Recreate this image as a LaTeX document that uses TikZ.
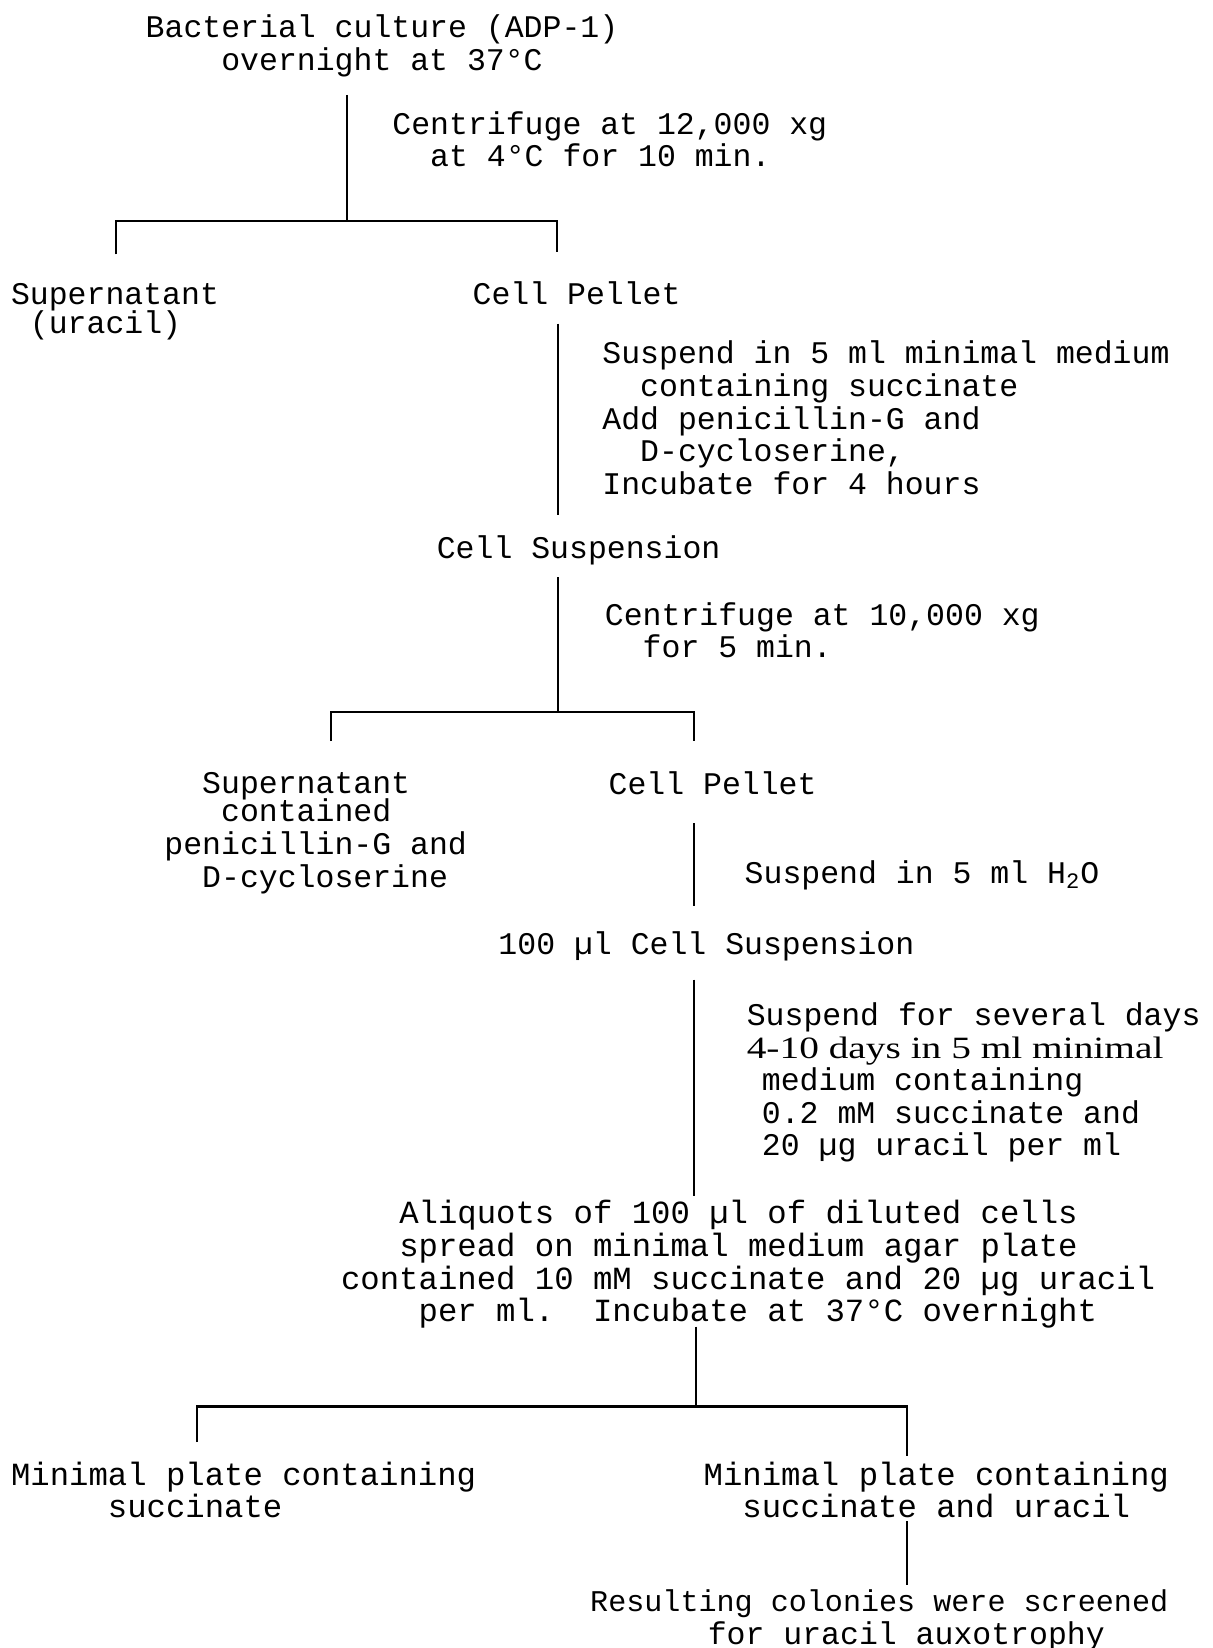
\documentclass[tikz,border=0pt]{standalone}
\usepackage{fontspec}
\usepackage{tikz}
\usetikzlibrary{positioning}
\setmonofont{Liberation Mono}
\newfontfamily\daysfont[FakeStretch=1.27]{Liberation Serif}
\newcommand{\pad}[1]{\hspace*{#1\fontcharwd\font`x}}

\begin{document}
\begin{tikzpicture}[x=0.5pt, y=-0.5pt,
        every node/.style={font=\ttfamily\fontsize{15.75}{16.3}\selectfont, inner sep=0pt},
        wide/.style={font=\ttfamily\fontsize{16.15}{16.3}\selectfont},
        wire/.style={line width=1.1pt},
        blk/.style={align=left, anchor=west},
        ctr/.style={align=center}]
        \useasboundingbox (0,0) rectangle (1213,1648);
        \node (culture) at (382,45.6) [ctr] {Bacterial culture (ADP-1)\\overnight at 37°C};
        \node (spin1) at (392,139.3) [blk] {Centrifuge at 12,000 xg\\\pad{2}at 4°C for 10 min.};
        \node (supA) at (10.6,311.5) [blk] {Supernatant\\[-2pt]\pad{1}(uracil)};
        \node (pelA) at (576.6,293.3) {Cell Pellet};
        \node (washA) at (602,417.8) [blk] {Suspend in 5 ml minimal medium\\\pad{2}containing succinate\\Add penicillin-G and\\\pad{2}D-cycloserine,\\Incubate for 4 hours};
        \node (suspA) at (578.6,550.7) {Cell Suspension};
        \node (spin2) at (604.5,630.1) [blk] {Centrifuge at 10,000 xg\\\pad{2}for 5 min.};
        \node (supB) at (164,832.9) [blk] {\pad{2}Supernatant\\[-2pt]\pad{3}contained\\penicillin-G and\\\pad{2}D-cycloserine};
        \node (pelB) at (712.6,783.1) {Cell Pellet};
        \node (water) at (744.3,875.6) [blk] {Suspend in 5 ml H\textsubscript{2}O};
        \node (suspB) at (706.4,946) {100 µl Cell Suspension};
        \node (starve) at (746.4,1082.6) [blk] {Suspend for several days\\{\daysfont\fontsize{15.5}{16.3}\selectfont 4-10 days in 5 ml minimal}\\\pad{0.8}medium containing\\\pad{0.8}0.2 mM succinate and\\\pad{0.8}20 µg uracil per ml};
        \node (plate) at (340.7,1264.4) [blk, wide] {\pad{3}Aliquots of 100 µl of diluted cells\\\pad{3}spread on minimal medium agar plate\\contained 10 mM succinate and 20 µg uracil\\\pad{4}per ml.\ \ Incubate at 37°C overnight};
        \node (plL) at (10.6,1489.9) [blk, wide] {Minimal plate containing\\\pad{5}succinate};
        \node (plR) at (703.3,1489.9) [blk, wide] {Minimal plate containing\\\pad{2}succinate and uracil};
        \node (screen) at (589.8,1620.3) [blk] {{\fontsize{15.05}{16.3}\selectfont Resulting colonies were screened}\\\hspace*{58.8pt}for uracil auxotrophy};
        \coordinate (t1) at (347,95);
        \coordinate (j1) at (347,220.7);
        \coordinate (sA) at (115.6,254.4);
        \coordinate (pA) at (557.1,252.3);
        \coordinate (t2) at (558.1,323.7);
        \coordinate (b2) at (558.1,515);
        \coordinate (t3) at (558.1,577);
        \coordinate (j2) at (558.1,711.6);
        \coordinate (sB) at (331.1,741);
        \coordinate (pB) at (693.7,741);
        \coordinate (t4) at (693.7,823);
        \coordinate (b4) at (693.7,906);
        \coordinate (t5) at (693.7,979.6);
        \coordinate (b5) at (693.7,1196.2);
        \coordinate (t6) at (695.8,1326.5);
        \coordinate (j3) at (695.8,1406.4);
        \coordinate (mL) at (196.6,1442.1);
        \coordinate (mR) at (907.1,1455.8);
        \coordinate (t7) at (907.1,1521);
        \coordinate (b7) at (907.1,1585);
        \path [draw, wire] (t1) -- (j1);
        \path [draw, wire] (sA) |- (j1) -| (pA);
        \path [draw, wire] (t2) -- (b2);
        \path [draw, wire] (t3) -- (j2);
        \path [draw, wire] (sB) |- (j2) -| (pB);
        \path [draw, wire] (t4) -- (b4);
        \path [draw, wire] (t5) -- (b5);
        \path [draw, wire] (t6) -- (j3);
        \path [draw, wire] (mL) |- (j3) -| (mR);
        \path [draw, wire] (t7) -- (b7);
    \end{tikzpicture}
\end{document}
